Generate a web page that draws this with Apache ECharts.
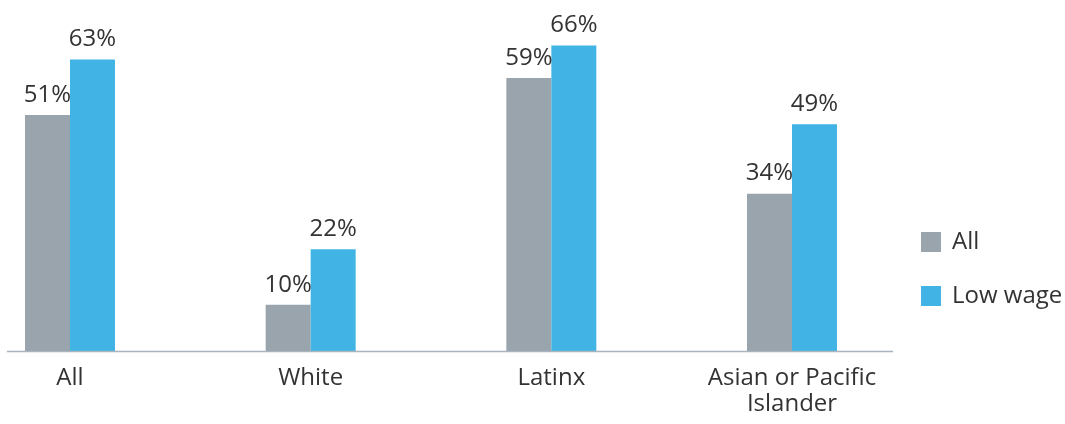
<!DOCTYPE html>
<html>
<head>
<meta charset="utf-8">
<script src="https://cdn.jsdelivr.net/npm/echarts@6/dist/echarts.min.js"></script>
<style>html,body{margin:0;padding:0;background:#fff;}#c{width:1065px;height:424px;}</style>
</head>
<body>
<div id="c"></div>
<script>
var categories = ['All', 'White', 'Latinx', 'Asian or Pacific\nIslander'];
var allValues = [51, 10, 59, 34];
var lowWageValues = [63, 22, 66, 49];
var seriesNames = ['All', 'Low wage'];

var chart = echarts.init(document.getElementById('c'));
var font = '"Open Sans", "Noto Sans", sans-serif';
var labelCfg = {
  show: true, position: 'top', distance: 8,
  formatter: '{c}%', fontSize: 24, color: '#333', fontFamily: font
};
chart.setOption({
  animation: false,
  textStyle: { fontFamily: font },
  grid: { left: 70, right: 273, top: 27, bottom: 73 },
  legend: {
    orient: 'vertical', left: 921, top: 230, padding: 0,
    itemWidth: 20, itemHeight: 20, itemGap: 30,
    icon: 'rect',
    textStyle: { fontSize: 24, color: '#333', fontFamily: font, padding: [0, 0, 0, 6] },
    data: seriesNames
  },
  xAxis: {
    type: 'category', data: categories, boundaryGap: false,
    axisLine: { show: false }, axisTick: { show: false },
    axisLabel: { fontSize: 24, color: '#333', margin: 14, lineHeight: 26, fontFamily: font }
  },
  yAxis: { type: 'value', min: 0, max: 70, show: false },
  graphic: [{
    type: 'line', z: 10,
    shape: { x1: 7, y1: 351.5, x2: 893, y2: 351.5 },
    style: { stroke: '#A9B4BE', lineWidth: 1.5 }
  }],
  series: [
    { name: seriesNames[0], type: 'bar', data: allValues, barWidth: 45, barGap: '0%',
      itemStyle: { color: '#99A4AD' }, label: labelCfg },
    { name: seriesNames[1], type: 'bar', data: lowWageValues, barWidth: 45,
      itemStyle: { color: '#41B4E5' }, label: labelCfg }
  ]
});
</script>
</body>
</html>
